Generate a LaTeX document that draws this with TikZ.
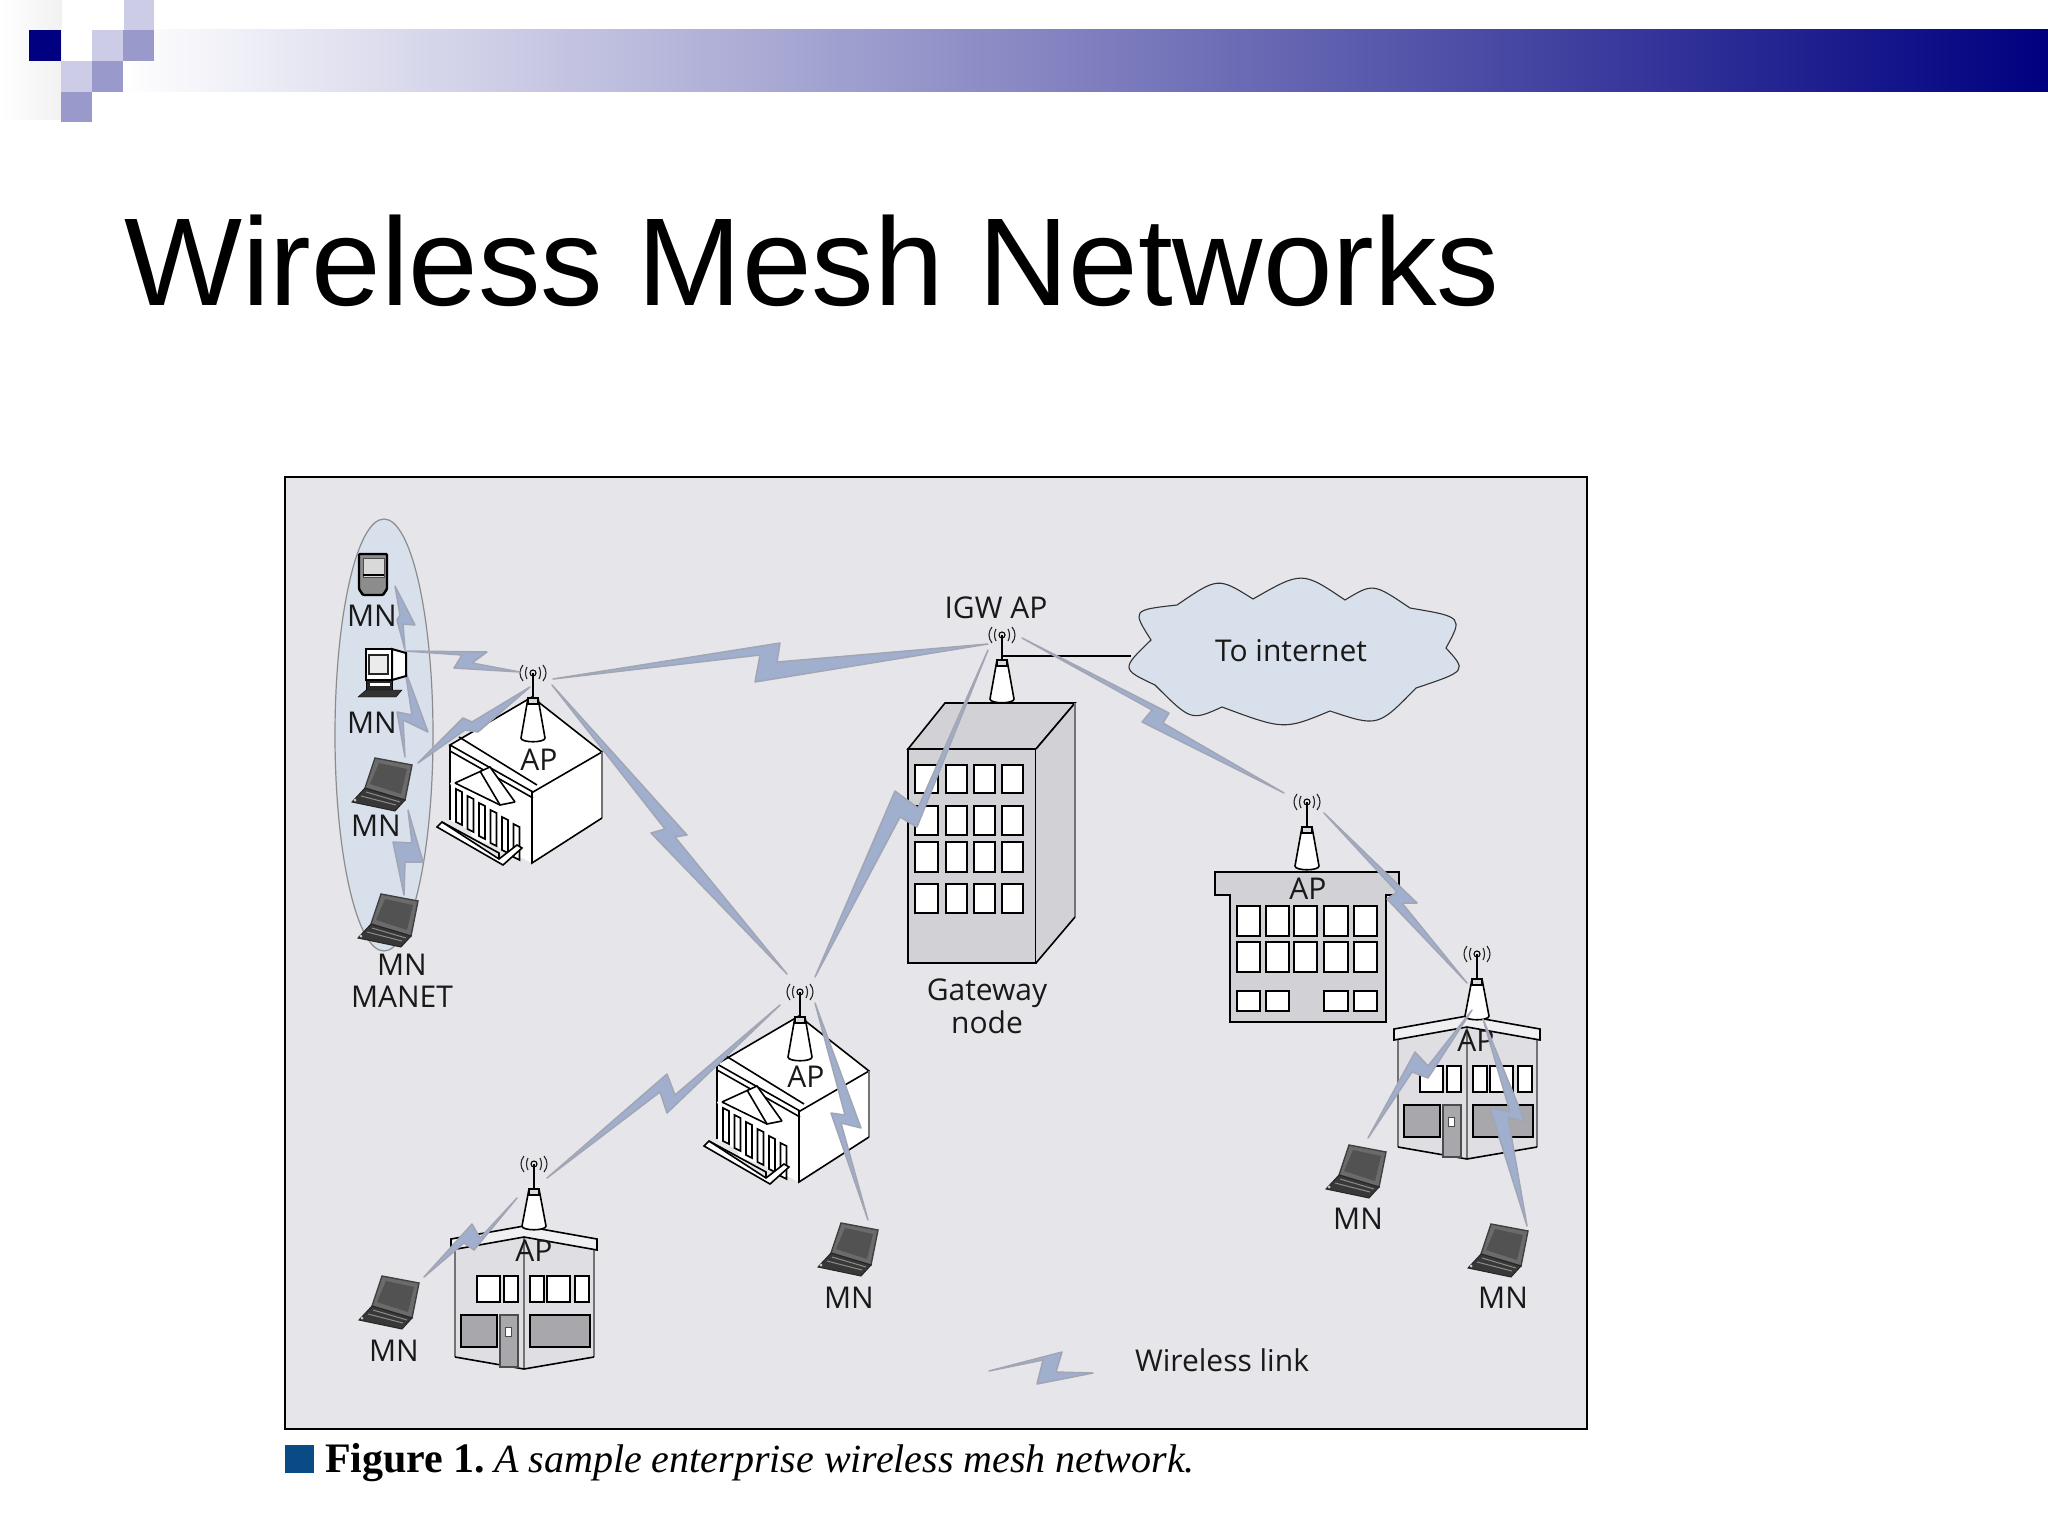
\documentclass[tikz,border=0pt]{standalone}
\usepackage{fontspec}
\setmainfont{Liberation Sans}
\newfontfamily\lblfont{Open Sans}
\newfontfamily\capfont{Liberation Serif}
\definecolor{bggray}{HTML}{E6E6EA}
\definecolor{linkblue}{HTML}{A0AFCE}
\definecolor{linkedge}{HTML}{A2A6B4}
\definecolor{mistblue}{HTML}{D8E0EC}
\definecolor{bldgray}{HTML}{D2D2D6}
\definecolor{panelgray}{HTML}{A8A8AC}
\definecolor{navyhead}{HTML}{000080}
\definecolor{sqlight}{HTML}{CCCCE6}
\definecolor{sqmid}{HTML}{9999CC}
\definecolor{capblue}{HTML}{0A4A85}
\tikzset{
  lbl/.style={inner sep=0pt,align=center,font=\lblfont\fontsize{30}{32}\selectfont,text=black!90},
  linkbolt/.style={fill=linkblue,draw=linkedge,line width=1.5pt,line join=round},
  bl/.style={draw=black,line width=1.6pt},
  wind/.style={draw=black,line width=2pt,fill=white},
  greyedge/.style={draw=black!55,line width=2.2pt}
}
\newcommand\wlink[6]{\path[linkbolt] #1 -- #2 -- #3 -- #4 -- #5 -- #6 -- cycle;}
\newcommand\wins[4]{\draw[wind] (#1,#3) rectangle (#2,#4);}
% antenna: origin at the radio symbol, #3 = tower base y
\newcommand\antenna[3]{\begin{scope}[shift={(#1,#2)}]
  \draw[black,line width=1.7pt] (0,0) -- (0,25);
  \draw[black,line width=1.1pt] (0,0) circle (3pt);
  \draw[black!85,line width=1.1pt] (-6,-6) .. controls (-8,-2) and (-8,2) .. (-6,6)
    (6,-6) .. controls (8,-2) and (8,2) .. (6,6)
    (-10,-8) .. controls (-14,-3) and (-14,3) .. (-10,8)
    (10,-8) .. controls (14,-3) and (14,3) .. (10,8);
  \draw[bl,fill=white] (-5,25) -- (-12,#3-4) .. controls (-12,#3+1) and (12,#3+1) .. (12,#3-4) -- (5,25) -- cycle;
  \draw[bl,fill=white!85!black] (-5,25) rectangle (5,31);
\end{scope}}
\newcommand\bank[2]{\begin{scope}[shift={(#1,#2)}]
  \path[fill=white] (-83,72) -- (-1,24) -- (69,79) -- (69,145) -- (-1,190) -- (-83,147) -- cycle;
  \draw[bl] (-83,72) -- (-1,24) -- (69,79) -- (0,119) -- cycle;
  \draw[bl] (-83,78) -- (0,125);
  \draw[bl] (-74,64) -- (4,112);
  \draw[greyedge] (69,79) -- (69,145);
  \draw[bl] (69,145) -- (-1,190) -- (-1,119);
  \draw[bl] (-83,72) -- (-83,147);
  \path[fill=white] (-83,110) -- (-43,94) -- (-18,129) -- (-18,180) -- (-60,165) -- cycle;
  \draw[bl] (-78,110) -- (-43,94) -- (-18,129);
  \draw[bl] (-53,98) -- (-33,132);
  \draw[bl] (-78,110) -- (-33,132) -- (-18,129);
  \foreach \i in {0,...,5} {
    \pgfmathsetmacro\cx{-77+\i*11.5}
    \pgfmathsetmacro\ct{116+\i*7}
    \draw[bl,fill=white] (\cx,\ct) -- (\cx+6,\ct+3) -- (\cx+6,\ct+36) -- (\cx,\ct+33) -- cycle;
  }
  \draw[bl,fill=white] (-91,149) -- (-96,154) -- (-30,192) -- (-11,175) -- (-16,172) -- (-34,186) -- cycle;
  \draw[bl] (-91,149) -- (-34,180) -- (-34,186);
\end{scope}\antenna{#1}{#2}{69}}
\newcommand\shop[2]{\begin{scope}[shift={(#1,#2)}]
  \path[fill=black!3!bggray] (-79,86) -- (-79,193) -- (-10,205) -- (60,193) -- (60,86) -- (-10,73) -- cycle;
  \draw[greyedge] (-79,86) -- (-79,193) (60,86) -- (60,193) (-10,73) -- (-10,205);
  \draw[bl] (-79,193) -- (-10,205) -- (60,193);
  \draw[bl,fill=white!40!bggray] (-83,75) -- (-10,62) -- (63,75) -- (63,86) -- (-10,73) -- (-83,86) -- cycle;
  \draw[wind] (-57,112) rectangle (-34,138);
  \draw[wind] (-30,112) rectangle (-16,138);
  \draw[wind] (-4,112) rectangle (10,138);
  \draw[wind] (13,112) rectangle (36,138);
  \draw[wind] (41,112) rectangle (55,138);
  \draw[wind,fill=panelgray] (-73,151) rectangle (-37,183);
  \draw[wind,fill=panelgray] (-4,151) rectangle (56,183);
  \draw[draw=black!70,line width=1.3pt,fill=panelgray] (-34,151) rectangle (-16,203);
  \draw[draw=black!70,line width=1pt,fill=white] (-29,163) rectangle (-23,172);
\end{scope}\antenna{#1}{#2}{66}}
\newcommand\laptop[2]{\begin{scope}[shift={(#1,#2)}]
  \draw[draw=black!75,line width=1.4pt,fill=black!58] (-7,-27) -- (30,-20) -- (23,15) -- (-17,3) -- cycle;
  \fill[black!68] (-3,-22) -- (25,-16) -- (19,9) -- (-12,-1) -- cycle;
  \draw[draw=black!85,line width=1pt,fill=black!78] (-17,3) -- (23,15) -- (13,26) -- (-30,17) -- cycle;
  \draw[black!45,line width=1pt] (-16,7) -- (18,17) (-21,11) -- (14,20);
  \fill[white!80!black] (-27,15) circle (1.5pt);
\end{scope}}
\begin{document}
\begin{tikzpicture}[x=1pt,y=-1pt]
\useasboundingbox (0,0) rectangle (2048,1536);
\fill[white] (0,0) rectangle (2048,1536);
% slide header
\shade[left color=white,right color=navyhead] (120,30) rectangle (2048,92);
\shade[left color=white,right color=white!78!sqmid!70!black!15] (0,0) rectangle (62,120);
\fill[white] (62,0) rectangle (124,30);
\fill[sqlight] (124,0) rectangle (154,30);
\fill[navyhead] (29,30) rectangle (61,61);
\fill[sqlight] (92,30) rectangle (123,61);
\fill[sqmid] (123,30) rectangle (154,61);
\fill[sqlight] (61,61) rectangle (92,92);
\fill[sqmid] (92,61) rectangle (123,92);
\fill[sqmid] (61,92) rectangle (92,122);
\node[anchor=base west,inner sep=0pt,font=\fontsize{125}{130}\selectfont] (title) at (124,305) {Wireless Mesh Networks};
% figure panel
\draw[fill=bggray,draw=black,line width=2pt] (285,477) rectangle (1587,1429);
\draw[fill=mistblue,draw=black!45,line width=1.2pt] (384,735) ellipse [x radius=49pt,y radius=216pt];
% cloud
\draw[fill=mistblue,draw=black!80,line width=1.1pt]
 (1151,640) .. controls (1132,610) .. (1177,605) .. controls (1218,577) .. (1253,599)
 .. controls (1302,571) .. (1345,600) .. controls (1373,583) .. (1410,608)
 .. controls (1463,617) .. (1446,648) .. controls (1467,671) .. (1416,688)
 .. controls (1378,727) .. (1330,711) .. controls (1284,730) .. (1222,707)
 .. controls (1191,721) .. (1155,685) .. controls (1121,669) .. cycle;
\coordinate (cloudw) at (1131,656);
\coordinate (igwmast) at (1002,656);
\node[lbl] (internet) at (1291,651) {To internet};
% gateway building
\draw[bl,fill=bldgray] (908,749) -- (945,703) -- (1075,703) -- (1036,749) -- cycle;
\draw[bl,fill=bldgray] (908,749) rectangle (1036,963);
\path[fill=bldgray] (1036,749) -- (1075,703) -- (1075,917) -- (1036,963) -- cycle;
\draw[bl] (1036,749) -- (1075,703);
\draw[greyedge] (1075,703) -- (1075,917);
\draw[bl] (1075,917) -- (1036,963);
\foreach \xa/\xb in {915/938,946/967,974/995,1002/1023} {
  \foreach \ya/\yb in {765/793,806/835,842/872,884/913} {
    \wins{\xa}{\xb}{\ya}{\yb}
  }
}
\draw[black,line width=1.6pt] (igwmast) -- (cloudw);
\antenna{1002}{635}{68}
% office building
\draw[bl,fill=bldgray] (1215,872) -- (1399,872) -- (1399,895) -- (1386,895) -- (1386,1022) -- (1230,1022) -- (1230,895) -- (1215,895) -- cycle;
\foreach \xa/\xb in {1237/1260,1266/1289,1294/1317,1324/1348,1354/1377} {
  \wins{\xa}{\xb}{906}{936}
  \wins{\xa}{\xb}{942}{972}
}
\foreach \xa/\xb in {1237/1260,1266/1289,1324/1348,1354/1377} {
  \wins{\xa}{\xb}{991}{1011}
}
\antenna{1307}{802}{68}
\bank{533}{673}
\bank{800}{992}
\shop{1477}{954}
\shop{534}{1164}
\node[lbl] (apa) at (539,760) {AP};
\node[lbl] (apb) at (806,1077) {AP};
\node[lbl] (apc) at (1308,889) {AP};
\node[lbl] (apd) at (1476,1041) {AP};
\node[lbl] (ape) at (534,1251) {AP};
% link end points
\coordinate (ma) at (395,586);
\coordinate (mb) at (405,650);
\coordinate (mc) at (405,670);
\coordinate (md) at (405,757);
\coordinate (me) at (408,810);
\coordinate (mf) at (404,895);
\coordinate (dskr) at (405,651);
\coordinate (ap1w) at (520,672);
\coordinate (lapr) at (418,763);
\coordinate (ap1s) at (530,687);
\coordinate (ap1e) at (553,679);
\coordinate (igww) at (988,644);
\coordinate (ap1se) at (552,685);
\coordinate (ap2nw) at (787,974);
\coordinate (ap2ne) at (815,977);
\coordinate (igwsw) at (988,650);
\coordinate (igwe) at (1022,638);
\coordinate (ap3w) at (1284,793);
\coordinate (ap3e) at (1324,813);
\coordinate (ap4n) at (1467,983);
\coordinate (ap4s) at (1472,1010);
\coordinate (lap5) at (1368,1138);
\coordinate (ap4se) at (1483,1019);
\coordinate (lap6) at (1527,1226);
\coordinate (ap2sw) at (780,1005);
\coordinate (ap5e) at (547,1178);
\coordinate (ap2s) at (815,1003);
\coordinate (lap4) at (868,1220);
\coordinate (lap3) at (424,1277);
\coordinate (ap5w) at (517,1198);
\coordinate (lega) at (989,1371);
\coordinate (legb) at (1093,1373);
% wireless links
\wlink{(ma)}{(415,625)}{(403,624)}{(mb)}{(397,620)}{(400,615)}
\wlink{(mc)}{(428,732)}{(403,720)}{(md)}{(397,712)}{(412,715)}
\wlink{(me)}{(423,862)}{(405,862)}{(mf)}{(393,842)}{(412,843)}
\wlink{(dskr)}{(487,652)}{(472,663)}{(ap1w)}{(454,668)}{(462,655)}
\wlink{(lapr)}{(463,718)}{(472,722)}{(ap1s)}{(478,732)}{(465,730)}
\wlink{(ap1e)}{(780,643)}{(777,662)}{(igww)}{(755,682)}{(760,655)}
\wlink{(ap1se)}{(687,835)}{(675,837)}{(ap2nw)}{(651,833)}{(665,829)}
\wlink{(ap2ne)}{(895,791)}{(918,808)}{(igwsw)}{(917,827)}{(900,817)}
\wlink{(igwe)}{(1169,713)}{(1163,723)}{(ap3w)}{(1142,722)}{(1152,710)}
\wlink{(ap3e)}{(1417,903)}{(1402,903)}{(ap4n)}{(1387,899)}{(1397,892)}
\wlink{(lap5)}{(1415,1052)}{(1428,1066)}{(ap4s)}{(1428,1078)}{(1412,1072)}
\wlink{(ap4se)}{(1525,1122)}{(1508,1117)}{(lap6)}{(1490,1108)}{(1510,1112)}
\wlink{(ap5e)}{(667,1074)}{(675,1095)}{(ap2sw)}{(667,1113)}{(660,1092)}
\wlink{(ap2s)}{(861,1128)}{(841,1123)}{(lap4)}{(831,1113)}{(845,1115)}
\wlink{(lap3)}{(472,1224)}{(480,1238)}{(ap5w)}{(474,1250)}{(464,1243)}
\wlink{(lega)}{(1062,1352)}{(1056,1372)}{(legb)}{(1037,1384)}{(1043,1360)}
% handheld
\draw[draw=black,line width=2.4pt,fill=black!45,rounded corners=1pt] (359,554) -- (387,554) -- (387,589) -- (383,595) -- (363,595) -- (359,589) -- cycle;
\draw[draw=black!70,line width=1pt,fill=black!15] (363,558) rectangle (384,577);
\draw[black,line width=1.5pt] (363,575) -- (384,575);
% desktop
\draw[draw=black,line width=2pt,fill=white] (392,649) -- (406,653) -- (406,676) -- (392,680) -- cycle;
\draw[draw=black,line width=2.4pt,fill=white] (366,649) rectangle (392,680);
\draw[draw=black!85,line width=1.6pt,fill=black!8] (369,655) rectangle (388,674);
\draw[draw=black,fill=black!85] (366,680) rectangle (392,693);
\fill[white] (370,683) rectangle (390,686);
\draw[draw=black,fill=black!80] (366,690) -- (402,690) -- (396,697) -- (358,697) -- cycle;
% laptops
\laptop{382}{785}
\laptop{388}{921}
\laptop{389}{1303}
\laptop{848}{1250}
\laptop{1356}{1172}
\laptop{1498}{1251}
% labels
\node[lbl] (mn1) at (372,616) {MN};
\node[lbl] (mn2) at (372,723) {MN};
\node[lbl] (mn3) at (376,826) {MN};
\node[lbl] (mn4) at (402,965) {MN};
\node[lbl] (manet) at (402,997) {MANET};
\node[lbl] (mn5) at (394,1351) {MN};
\node[lbl] (mn6) at (849,1298) {MN};
\node[lbl] (mn7) at (1358,1219) {MN};
\node[lbl] (mn8) at (1503,1298) {MN};
\node[lbl] (igw) at (996,608) {IGW AP};
\node[lbl] (gate) at (987,993) {Gateway};
\node[lbl] (gatenode) at (987,1022) {node};
\node[lbl] (wl) at (1222,1360) {Wireless link};
% caption
\fill[capblue] (285,1445) rectangle (314,1473);
\node[anchor=base west,inner sep=0pt,font=\capfont\fontsize{42}{44}\selectfont\bfseries] (figa) at (325,1472) {Figure 1.};
\node[anchor=base west,inner sep=0pt,font=\capfont\fontsize{40}{42}\selectfont\itshape] (figb) at (494,1472) {A sample enterprise wireless mesh network.};
\end{tikzpicture}
\end{document}
